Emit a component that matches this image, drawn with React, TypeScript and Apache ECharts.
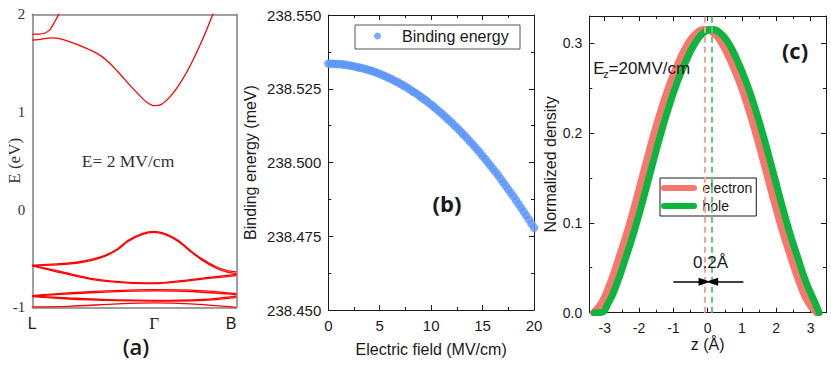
import React, { useEffect, useRef } from "react";
import * as echarts from "echarts";

// ---------- Panel (a): band structure, k path L(0) -> Γ(1) -> B(1.674) ----------
const kTickValues = [0, 1, 1.674];
const kTickLabels = ["L", "Γ", "B"];

const bandUpper = [[0, 1.798], [0.06, 1.798], [0.1, 1.806], [0.143, 1.84], [0.184, 1.924], [0.217, 2.0], [0.235, 2.05]];
const bandConduction = [[0, 1.737], [0.05, 1.74], [0.1, 1.752], [0.16, 1.758], [0.24, 1.745], [0.32, 1.713], [0.4, 1.675], [0.5, 1.62], [0.6, 1.54], [0.7, 1.415], [0.8, 1.275], [0.88, 1.17], [0.94, 1.1], [1.0, 1.064], [1.06, 1.078], [1.131, 1.157], [1.2, 1.27], [1.269, 1.412], [1.33, 1.56], [1.378, 1.69], [1.43, 1.84], [1.482, 2.0], [1.52, 2.11]];
const bandValenceTopA = [[0, -0.57], [0.2, -0.556], [0.375, -0.536], [0.5, -0.505], [0.595, -0.468], [0.7, -0.4], [0.786, -0.314], [0.9, -0.245], [1.0, -0.222], [1.1, -0.25], [1.197, -0.314], [1.3, -0.42], [1.389, -0.502], [1.5, -0.58], [1.608, -0.628], [1.674, -0.638]];
const bandValenceTopB = [[0, -0.572], [0.2, -0.566], [0.375, -0.547], [0.5, -0.516], [0.595, -0.479], [0.7, -0.411], [0.786, -0.325], [0.9, -0.256], [1.0, -0.233], [1.1, -0.261], [1.197, -0.325], [1.3, -0.431], [1.389, -0.514], [1.5, -0.593], [1.608, -0.643], [1.674, -0.652]];
const bandValence2A = [[0, -0.57], [0.24, -0.636], [0.51, -0.71], [0.79, -0.745], [1.0, -0.75], [1.2, -0.73], [1.47, -0.69], [1.674, -0.662]];
const bandValence2B = [[0, -0.575], [0.24, -0.648], [0.51, -0.72], [0.79, -0.753], [1.0, -0.758], [1.2, -0.74], [1.47, -0.702], [1.674, -0.676]];
const bandLow1A = [[0, -0.88], [0.4, -0.845], [0.8, -0.825], [1.0, -0.82], [1.3, -0.825], [1.674, -0.86]];
const bandLow1B = [[0, -0.885], [0.4, -0.856], [0.8, -0.835], [1.0, -0.832], [1.3, -0.838], [1.674, -0.87]];
const bandLow2A = [[0, -0.885], [0.3, -0.905], [0.7, -0.925], [1.0, -0.93], [1.4, -0.92], [1.674, -0.885]];
const bandLow2B = [[0, -0.89], [0.3, -0.915], [0.7, -0.932], [1.0, -0.937], [1.4, -0.93], [1.674, -0.9]];
const bandLow3 = [[0, -0.995], [0.3, -0.99], [0.7, -0.965], [1.0, -0.955], [1.3, -0.965], [1.674, -1.0]];
const bands = [bandUpper, bandConduction, bandValenceTopA, bandValenceTopB, bandValence2A, bandValence2B, bandLow1A, bandLow1B, bandLow2A, bandLow2B, bandLow3];

// ---------- Panel (b): binding energy vs electric field ----------
const fieldValues = [0, 0.25, 0.5, 0.75, 1, 1.25, 1.5, 1.75, 2, 2.25, 2.5, 2.75, 3, 3.25, 3.5, 3.75, 4, 4.25, 4.5, 4.75, 5, 5.25, 5.5, 5.75, 6, 6.25, 6.5, 6.75, 7, 7.25, 7.5, 7.75, 8, 8.25, 8.5, 8.75, 9, 9.25, 9.5, 9.75, 10, 10.25, 10.5, 10.75, 11, 11.25, 11.5, 11.75, 12, 12.25, 12.5, 12.75, 13, 13.25, 13.5, 13.75, 14, 14.25, 14.5, 14.75, 15, 15.25, 15.5, 15.75, 16, 16.25, 16.5, 16.75, 17, 17.25, 17.5, 17.75, 18, 18.25, 18.5, 18.75, 19, 19.25, 19.5, 19.75, 20];
const bindingValues = [238.5335, 238.5335, 238.5335, 238.5334, 238.5334, 238.5333, 238.5332, 238.5331, 238.5329, 238.5328, 238.5326, 238.5324, 238.5322, 238.532, 238.5318, 238.5315, 238.5313, 238.531, 238.5307, 238.5304, 238.53, 238.5297, 238.5293, 238.5289, 238.5285, 238.5281, 238.5276, 238.5272, 238.5267, 238.5262, 238.5257, 238.5252, 238.5246, 238.524, 238.5235, 238.5229, 238.5222, 238.5216, 238.521, 238.5203, 238.5196, 238.5189, 238.5182, 238.5174, 238.5167, 238.5159, 238.5151, 238.5143, 238.5135, 238.5126, 238.5118, 238.5109, 238.51, 238.5091, 238.5082, 238.5072, 238.5063, 238.5053, 238.5043, 238.5033, 238.5022, 238.5012, 238.5001, 238.499, 238.4979, 238.4968, 238.4957, 238.4945, 238.4933, 238.4921, 238.4909, 238.4897, 238.4885, 238.4872, 238.4859, 238.4846, 238.4833, 238.482, 238.4807, 238.4793, 238.4779];

// ---------- Panel (c): normalized densities ----------
const zElectron = [-3.33, -3.08, -2.83, -2.58, -2.33, -2.08, -1.83, -1.58, -1.33, -1.08, -0.83, -0.58, -0.33, -0.08, 0.17, 0.42, 0.67, 0.92, 1.17, 1.42, 1.67, 1.92, 2.17, 2.42, 2.67, 2.92, 3.17];
const densityElectron = [0, 0.012, 0.034, 0.062, 0.092, 0.126, 0.162, 0.197, 0.229, 0.257, 0.28, 0.299, 0.311, 0.315, 0.311, 0.299, 0.28, 0.257, 0.229, 0.197, 0.162, 0.126, 0.092, 0.062, 0.034, 0.012, 0];
const zHole = [-3.3, -3.13, -2.88, -2.63, -2.38, -2.13, -1.88, -1.63, -1.38, -1.13, -0.88, -0.63, -0.38, -0.13, 0.12, 0.37, 0.62, 0.87, 1.12, 1.37, 1.62, 1.87, 2.12, 2.37, 2.62, 2.87, 3.12, 3.25];
const densityHole = [0, 0, 0.012, 0.034, 0.062, 0.092, 0.126, 0.162, 0.197, 0.229, 0.257, 0.28, 0.299, 0.311, 0.315, 0.311, 0.299, 0.28, 0.257, 0.229, 0.197, 0.162, 0.126, 0.092, 0.062, 0.034, 0.012, 0];
const electronPeak = -0.08;
const holePeak = 0.12;
const arrowLevel = 0.0345;
const zTickValues = [-3, -2, -1, 0, 1, 2, 3];
const zMinorTickValues = [-2.5, -1.5, -0.5, 0.5, 1.5, 2.5];
const densityTickValues = [0, 0.1, 0.2, 0.3];
const densityMinorTickValues = [0.05, 0.15, 0.25];

const SANS = "'Liberation Sans', Arial, sans-serif";
const SERIF = "'Liberation Serif', 'Times New Roman', serif";
const BOLD = "'Open Sans', 'DejaVu Sans', sans-serif";
const INK = "#1a1a1a";
const GRAY_FRAME = "#808080";

const RED = "#ff0000";
const BLUE = "#5e97f7";
const SALMON = "#f8776d";
const GREEN = "#0db53e";
const PILL = "path://M3,0L33,0A3,3,0,0,1,33,6L3,6A3,3,0,0,1,3,0Z";

function App() {
  const ref = useRef<HTMLDivElement>(null);

  useEffect(() => {
    document.body.style.margin = "0";
    if (!ref.current) return;
    const chart = echarts.init(ref.current, null, { renderer: "svg" });

    const frameLine = (color: string, width = 1) => ({ show: true, onZero: false, lineStyle: { color, width } });
    const noLabel = { show: false };
    const noSplit = { show: false };

    const xAxes: any[] = [
      // (a) bottom
      {
        gridIndex: 0, type: "value", position: "bottom", min: 0, max: 1.674,
        axisLine: frameLine(GRAY_FRAME, 1.5), axisTick: { show: false }, splitLine: noSplit,
        axisLabel: {
          customValues: kTickValues, margin: 8, fontFamily: SANS, fontSize: 16, color: INK,
          alignMaxLabel: "right",
          formatter: (v: number) => {
            let best = 0;
            kTickValues.forEach((t, i) => { if (Math.abs(t - v) < Math.abs(kTickValues[best] - v)) best = i; });
            const s = kTickLabels[best];
            return s === "Γ" ? "{g|Γ}" : s;
          },
          rich: { g: { fontFamily: SERIF, fontSize: 17, color: INK } },
        },
      },
      // (a) top
      { gridIndex: 0, type: "value", position: "top", min: 0, max: 1.674, axisLine: frameLine(GRAY_FRAME, 1.5), axisTick: { show: false }, axisLabel: noLabel, splitLine: noSplit },
      // (b) bottom
      {
        gridIndex: 1, type: "value", position: "bottom", min: 0, max: 20, interval: 5,
        axisLine: frameLine(INK), axisTick: { inside: true, length: 5, lineStyle: { color: INK } },
        minorTick: { show: true, splitNumber: 2, length: 3, lineStyle: { color: INK } },
        splitLine: noSplit, minorSplitLine: { show: false },
        axisLabel: { fontFamily: SANS, fontSize: 15, color: INK, margin: 8 },
        name: "Electric field (MV/cm)", nameLocation: "middle", nameGap: 31, nameMoveOverlap: false,
        nameTextStyle: { fontFamily: SANS, fontSize: 16, color: INK },
      },
      // (b) top
      {
        gridIndex: 1, type: "value", position: "top", min: 0, max: 20, interval: 5,
        axisLine: frameLine(INK), axisTick: { inside: true, length: 5, lineStyle: { color: INK } },
        minorTick: { show: true, splitNumber: 2, length: 3, lineStyle: { color: INK } },
        splitLine: noSplit, axisLabel: noLabel,
      },
      // (c) bottom major
      {
        gridIndex: 2, type: "value", position: "bottom", min: -3.45, max: 3.45,
        axisLine: frameLine(INK), axisTick: { inside: true, length: 5, customValues: zTickValues, lineStyle: { color: INK } },
        splitLine: noSplit,
        axisLabel: { customValues: zTickValues, fontFamily: SANS, fontSize: 14, color: INK, margin: 8 },
        name: "z (Å)", nameLocation: "middle", nameGap: 24, nameMoveOverlap: false,
        nameTextStyle: { fontFamily: SANS, fontSize: 16, color: INK },
      },
      // (c) bottom minor
      {
        gridIndex: 2, type: "value", position: "bottom", min: -3.45, max: 3.45,
        axisLine: { show: false, onZero: false }, axisTick: { inside: true, length: 3, customValues: zMinorTickValues, lineStyle: { color: INK } },
        splitLine: noSplit, axisLabel: noLabel,
      },
      // (c) top major
      {
        gridIndex: 2, type: "value", position: "top", min: -3.45, max: 3.45,
        axisLine: frameLine(INK), axisTick: { inside: true, length: 5, customValues: zTickValues, lineStyle: { color: INK } },
        splitLine: noSplit, axisLabel: noLabel,
      },
      // (c) top minor
      {
        gridIndex: 2, type: "value", position: "top", min: -3.45, max: 3.45,
        axisLine: { show: false, onZero: false }, axisTick: { inside: true, length: 3, customValues: zMinorTickValues, lineStyle: { color: INK } },
        splitLine: noSplit, axisLabel: noLabel,
      },
    ];

    const yAxes: any[] = [
      // (a) left
      {
        gridIndex: 0, type: "value", position: "left", min: -1, max: 2, interval: 1,
        axisLine: frameLine(GRAY_FRAME, 1.5), axisTick: { show: false }, splitLine: noSplit,
        axisLabel: { fontFamily: SERIF, fontSize: 15, color: "#333", margin: 7 },
        name: "E (eV)", nameLocation: "middle", nameGap: 9, nameMoveOverlap: false,
        nameTextStyle: { fontFamily: SERIF, fontSize: 17, color: "#333" },
      },
      // (a) right
      { gridIndex: 0, type: "value", position: "right", min: -1, max: 2, interval: 1, axisLine: frameLine(GRAY_FRAME, 1.5), axisTick: { show: false }, axisLabel: noLabel, splitLine: noSplit },
      // (b) left
      {
        gridIndex: 1, type: "value", position: "left", min: 238.45, max: 238.55, interval: 0.025,
        axisLine: frameLine(INK), axisTick: { inside: true, length: 5, lineStyle: { color: INK } },
        minorTick: { show: true, splitNumber: 2, length: 3, lineStyle: { color: INK } },
        splitLine: noSplit,
        axisLabel: { fontFamily: SANS, fontSize: 15, color: INK, margin: 7, formatter: (v: number) => v.toFixed(3) },
        name: "Binding energy (meV)", nameLocation: "middle", nameGap: 70, nameMoveOverlap: false,
        nameTextStyle: { fontFamily: SANS, fontSize: 16, color: INK },
      },
      // (b) right
      {
        gridIndex: 1, type: "value", position: "right", min: 238.45, max: 238.55, interval: 0.025,
        axisLine: frameLine(INK), axisTick: { inside: true, length: 5, lineStyle: { color: INK } },
        minorTick: { show: true, splitNumber: 2, length: 3, lineStyle: { color: INK } },
        splitLine: noSplit, axisLabel: noLabel,
      },
      // (c) left major
      {
        gridIndex: 2, type: "value", position: "left", min: 0, max: 0.33,
        axisLine: frameLine(INK), axisTick: { inside: true, length: 5, customValues: densityTickValues, lineStyle: { color: INK } },
        splitLine: noSplit,
        axisLabel: { customValues: densityTickValues, fontFamily: SANS, fontSize: 14, color: INK, margin: 7, formatter: (v: number) => v.toFixed(1) },
        name: "Normalized density", nameLocation: "middle", nameGap: 31, nameMoveOverlap: false,
        nameTextStyle: { fontFamily: SANS, fontSize: 16, color: INK },
      },
      // (c) left minor
      {
        gridIndex: 2, type: "value", position: "left", min: 0, max: 0.33,
        axisLine: { show: false, onZero: false }, axisTick: { inside: true, length: 3, customValues: densityMinorTickValues, lineStyle: { color: INK } },
        splitLine: noSplit, axisLabel: noLabel,
      },
      // (c) right major
      {
        gridIndex: 2, type: "value", position: "right", min: 0, max: 0.33,
        axisLine: frameLine(INK), axisTick: { inside: true, length: 5, customValues: densityTickValues, lineStyle: { color: INK } },
        splitLine: noSplit, axisLabel: noLabel,
      },
      // (c) right minor
      {
        gridIndex: 2, type: "value", position: "right", min: 0, max: 0.33,
        axisLine: { show: false, onZero: false }, axisTick: { inside: true, length: 3, customValues: densityMinorTickValues, lineStyle: { color: INK } },
        splitLine: noSplit, axisLabel: noLabel,
      },
    ];

    const bandSeries = bands.map((b, i) => ({
      type: "line", name: "band" + i, xAxisIndex: 0, yAxisIndex: 0,
      data: b, symbol: "none", showSymbol: false, smooth: 0.3, silent: true,
      lineStyle: { color: RED, width: 1.3 },
    }));

    const option: any = {
      animation: false,
      backgroundColor: "#ffffff",
      grid: [
        { left: 32.3, top: 14.3, width: 204, height: 293, outerBoundsMode: "none" },
        { left: 328.3, top: 15, width: 205.7, height: 295, outerBoundsMode: "none" },
        { left: 589.3, top: 16, width: 236.7, height: 296.7, outerBoundsMode: "none" },
      ],
      xAxis: xAxes,
      yAxis: yAxes,
      legend: [
        {
          data: ["Binding energy"], left: 374, top: 28, orient: "horizontal",
          icon: "circle", itemWidth: 7, itemHeight: 7, padding: 0,
          formatter: (name: string) => "{gap|}" + name,
          textStyle: { fontFamily: SANS, fontSize: 16, color: INK, rich: { gap: { width: 16 } } },
          selectedMode: false,
        },
        {
          data: ["electron", "hole"], left: 660, top: 178, orient: "vertical",
          icon: PILL, itemWidth: 37, itemHeight: 6, itemGap: 4,
          padding: [3, 4, 3, 1], borderColor: INK, borderWidth: 1,
          textStyle: { fontFamily: SANS, fontSize: 14, color: INK },
          selectedMode: false,
        },
      ],
      series: [
        ...bandSeries,
        {
          type: "scatter", name: "Binding energy", xAxisIndex: 2, yAxisIndex: 2,
          data: fieldValues.map((f, i) => [f, bindingValues[i]]),
          symbol: "circle", symbolSize: 8.5, itemStyle: { color: BLUE },
        },
        {
          type: "line", name: "electron", xAxisIndex: 4, yAxisIndex: 4,
          data: zElectron.map((z, i) => [z, densityElectron[i]]),
          symbol: "none", showSymbol: false, smooth: true, z: 2,
          lineStyle: { color: SALMON, width: 7, cap: "round" }, itemStyle: { color: SALMON },
        },
        {
          type: "line", name: "hole", xAxisIndex: 4, yAxisIndex: 4,
          data: zHole.map((z, i) => [z, densityHole[i]]),
          symbol: "none", showSymbol: false, smooth: true, z: 3,
          lineStyle: { color: GREEN, width: 7, cap: "round" }, itemStyle: { color: GREEN },
          markLine: {
            silent: true, symbol: ["none", "none"], label: { show: false },
            emphasis: { disabled: true },
            data: [
              { xAxis: electronPeak, lineStyle: { color: "#f5a39b", type: [6, 4], width: 2 } },
              { xAxis: holePeak, lineStyle: { color: "#5fcb7e", type: [6, 4], width: 2 } },
              [
                { coord: [-1.0, arrowLevel], symbol: "none", lineStyle: { color: "#000", type: "solid", width: 1.5 } },
                { coord: [electronPeak - 0.01, arrowLevel], symbol: "triangle", symbolSize: [8, 12] },
              ],
              [
                { coord: [1.04, arrowLevel], symbol: "none", lineStyle: { color: "#000", type: "solid", width: 1.5 } },
                { coord: [holePeak + 0.01, arrowLevel], symbol: "triangle", symbolSize: [8, 12] },
              ],
            ],
          },
        },
      ],
      graphic: [
        { type: "rect", shape: { x: 355, y: 25, width: 165, height: 24 }, style: { fill: "none", stroke: "#555", lineWidth: 1 }, silent: true },
        { type: "text", x: 128, y: 161, style: { text: "E= 2 MV/cm", fontFamily: SERIF, fontSize: 17.5, fill: "#333", align: "center", verticalAlign: "middle" } },
        { type: "text", x: 136, y: 346, style: { text: "(a)", fontFamily: BOLD, fontSize: 22, fontWeight: 600, fill: INK, align: "center", verticalAlign: "middle" } },
        { type: "text", x: 447, y: 203, style: { text: "(b)", fontFamily: BOLD, fontSize: 22, fontWeight: 700, fill: INK, align: "center", verticalAlign: "middle" } },
        { type: "text", x: 795, y: 50, style: { text: "(c)", fontFamily: BOLD, fontSize: 22, fontWeight: 700, fill: INK, align: "center", verticalAlign: "middle" } },
        { type: "text", x: 593.3, y: 68, z: 10, style: { text: "E", fontFamily: SANS, fontSize: 17, fill: INK, align: "left", verticalAlign: "middle" } },
        { type: "text", x: 603.3, y: 74, z: 10, style: { text: "z", fontFamily: SANS, fontSize: 11, fill: INK, align: "left", verticalAlign: "middle" } },
        { type: "text", x: 608.5, y: 68, z: 10, style: { text: "=20MV/cm", fontFamily: SANS, fontSize: 17, fill: INK, align: "left", verticalAlign: "middle" } },
        { type: "text", x: 710.5, y: 262, z: 10, style: { text: "0.2Å", fontFamily: SANS, fontSize: 17, fill: INK, align: "center", verticalAlign: "middle" } },
      ],
    };

    chart.setOption(option);
    return () => chart.dispose();
  }, []);

  return <div ref={ref} style={{ width: 831, height: 367 }} />;
}

export default App;
